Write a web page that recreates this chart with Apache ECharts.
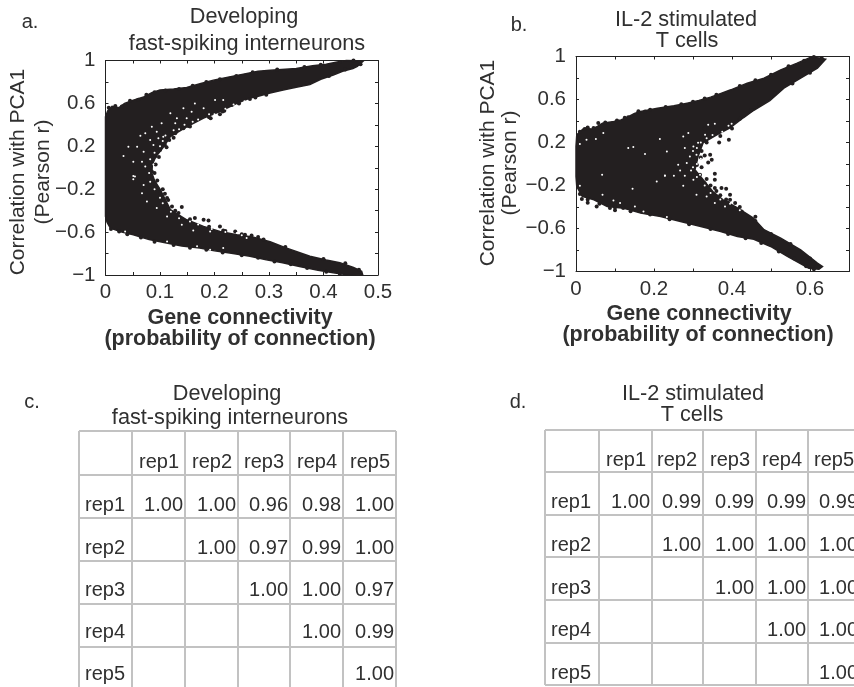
<!DOCTYPE html>
<html><head><meta charset="utf-8">
<style>html,body{margin:0;padding:0;background:#fff;overflow:hidden}#c{width:854px;height:687px}</style>
<script src="https://cdn.jsdelivr.net/npm/echarts@6/dist/echarts.min.js"></script></head>
<body><div id="c"></div>
<script>
// Envelope of the dense point cloud [connectivity, r]
const cloudA = [[0,.476],[.004,.53],[.012,.572],[.025,.56],[.035,.6],[.051,.63],[.07,.66],[.085,.7],[.1,.724],[.125,.735],[.149,.749],[.175,.785],[.198,.817],[.225,.845],[.253,.873],[.28,.9],[.302,.91],[.33,.918],[.35,.925],[.38,.95],[.405,.966],[.425,.985],[.442,1],[.46,.998],[.472,.99],
 [.462,.945],[.454,.926],[.435,.9],[.418,.864],[.395,.825],[.375,.775],[.35,.75],[.326,.724],[.3,.695],[.277,.662],[.265,.65],[.241,.6],[.21,.525],[.18,.463],[.149,.382],[.119,.29],[.106,.19],[.092,.1],[.086,.03],[.085,-.05],[.09,-.12],[.1,-.2],[.11,-.3],[.119,-.39],[.149,-.485],[.18,-.547],[.21,-.594],[.241,-.625],[.27,-.645],[.302,-.69],[.33,-.745],[.375,-.825],[.405,-.86],[.43,-.885],[.455,-.93],[.47,-.966],[.472,-1],
 [.44,-.995],[.418,-.98],[.39,-.955],[.356,-.92],[.325,-.885],[.295,-.857],[.265,-.825],[.234,-.8],[.2,-.775],[.173,-.749],[.14,-.73],[.112,-.702],[.08,-.67],[.051,-.625],[.03,-.6],[.009,-.563],[.003,-.51],[0,-.454]];
const edgeDotsA = [[.193,.461],[.21,.498],[.218,.531],[.232,.584],[.244,.606],[.152,.389],[.143,.368],[.128,.321],[.117,.259],[.109,.212],[.1,.166],[.091,.104],[.079,.011],[.085,-.036],[.079,-.088],[.091,-.16],[.091,-.15],[.1,-.231],[.109,-.243],[.113,-.283],[.122,-.361],[.14,-.367],[.134,-.423],[.164,-.469],[.18,-.485],[.189,-.492],[.21,-.547],[.216,-.585],[.238,-.594],[.256,-.625],[.268,-.631],[.29,-.67],[.33,-.74],[.4,-.85],[.44,-.89],[.465,-.95],[.468,.965],[.44,.915],[.41,.855],[.37,.79],[.295,.68],[.265,.64],
 [.006,.56],[.018,.575],[.03,.57],[.045,.625],[.06,.635],[.075,.68],[.09,.705],[.11,.72],[.135,.735],[.16,.765],[.185,.8],[.21,.825],[.24,.855],[.27,.89],[.315,.915],[.365,.94],[.395,.96],[.43,.985],[.455,1],
 [.01,-.57],[.025,-.595],[.04,-.62],[.065,-.65],[.09,-.69],[.125,-.72],[.155,-.745],[.185,-.765],[.215,-.79],[.25,-.815],[.28,-.84],[.31,-.875],[.34,-.9],[.37,-.935],[.405,-.97],[.43,-.99],
 [.155,.385],[.125,.28],[.112,.19],[.098,.1],[.092,.03],[.09,-.05],[.095,-.12],[.105,-.2],[.115,-.3],[.128,-.4],[.155,-.48],[.19,-.55],[.22,-.59],[.25,-.62],[.28,-.645],[.19,.47],[.215,.525],[.245,.6],[.275,.655]];
const gapDotsA = [[.033,.11],[.051,.057],[.042,.196],[.058,.196],[.073,.321],[.064,.299],[.085,.382],[.094,.336],[.103,.414],[.119,.507],[.143,.554],[.164,.6],[.158,.522],[.18,.554],[.201,.631],[.216,.631],[.07,.15],[.067,.057],[.073,.011],[.054,-.082],[.051,-.107],[.082,.259],[.088,.212],[.097,.275],[.106,.29],[.128,.414],[.131,.461],[.149,.461],[.051,-.076],[.07,-.16],[.067,-.237],[.076,-.315],[.094,-.376],[.113,-.455],[.14,-.532],[.161,-.585],[.192,-.594],[.216,-.749],[.241,-.609],[.259,-.655],[.168,-.733],[.113,-.687],[.036,-.594],[.192,-.764],
 [.088,.03],[.082,.08],[.09,.14],[.1,.2],[.105,.25],[.11,.3],[.125,.35],[.135,.36],[.145,.4],[.16,.43],[.17,.45],[.19,.5],[.2,.5],[.22,.55],[.235,.59],[.255,.62],[.08,-.05],[.082,-.13],[.09,-.2],[.1,-.28],[.105,-.33],[.12,-.41],[.135,-.47],[.155,-.5],[.17,-.53],[.195,-.57],[.22,-.6],[.25,-.63]];

const cloudB = [[0,.07],[0,.163],[.002,.271],[.02,.333],[.04,.325],[.055,.349],[.068,.38],[.097,.395],[.115,.41],[.132,.436],[.15,.47],[.166,.488],[.209,.519],[.251,.541],[.285,.566],[.315,.59],[.345,.622],[.37,.655],[.397,.69],[.439,.752],[.482,.798],[.525,.876],[.567,.938],[.602,.994],[.625,.985],[.64,.975],
 [.619,.891],[.576,.798],[.533,.705],[.497,.59],[.456,.5],[.429,.43],[.395,.337],[.361,.272],[.326,.197],[.313,.07],[.305,-.054],[.326,-.147],[.351,-.256],[.377,-.333],[.413,-.407],[.454,-.5],[.482,-.612],[.525,-.69],[.576,-.798],[.619,-.922],[.632,-.953],[.623,-.978],[.597,-.969],
 [.542,-.86],[.499,-.767],[.456,-.7],[.414,-.674],[.371,-.628],[.32,-.581],[.268,-.535],[.217,-.488],[.166,-.457],[.123,-.411],[.08,-.395],[.046,-.333],[.016,-.302],[.002,-.209],[0,-.116]];
const edgeDotsB = [[.392,.225],[.367,.2],[.344,.086],[.348,.039],[.339,.014],[.356,-.091],[.356,-.147],[.373,-.224],[.385,-.23],[.395,-.286],[.356,-.224],[.408,-.363],[.395,-.333],[.425,-.442],[.015,-.326],[.023,.325],[.057,.381],[.053,-.395],[.087,-.41],[.121,-.41],[.134,.436],[.177,.489],[.03,-.36],[.1,-.43],[.42,.42],[.45,.5],[.63,.985],[.33,.33],[.3,.2],[.322,-.03],[.33,-.18],[.322,.12],[.33,.08],[.318,-.1],[.345,-.2],[.37,-.29],[.39,-.36],
 [.01,.3],[.03,.34],[.045,.335],[.075,.385],[.105,.405],[.125,.43],[.16,.49],[.19,.505],[.23,.53],[.27,.555],[.3,.58],[.33,.61],[.36,.645],[.42,.725],[.46,.78],[.5,.83],[.545,.91],[.585,.96],[.61,.995],
 [.01,-.28],[.03,-.33],[.06,-.37],[.1,-.405],[.14,-.44],[.19,-.47],[.24,-.515],[.29,-.56],[.345,-.605],[.39,-.65],[.435,-.69],[.475,-.735],[.52,-.815],[.56,-.88],[.59,-.95],[.61,-.98],[.6,-.88],[.55,-.745],[.5,-.65],[.46,-.53],[.6,.85],[.555,.75],[.51,.655],[.47,.56],
 [.32,.06],[.335,.2],[.37,.26],[.4,.33],[.31,-.01],[.335,-.14],[.36,-.25],[.385,-.33],[.42,-.4],[.46,-.49]];
const gapDotsB = [[.215,.232],[.233,.117],[.275,.256],[.288,.288],[.339,.365],[.356,.374],[.391,.356],[.399,.374],[.331,.272],[.301,.163],[.279,.148],[.292,.07],[.262,-.007],[.284,.009],[.267,-.06],[.228,-.109],[.251,-.109],[.279,-.109],[.301,-.147],[.318,-.1],[.275,-.202],[.309,-.286],[.335,-.302],[.356,-.363],[.382,-.395],[.313,.197],[.233,-.494],[.309,.086],[.134,.148],[.147,.157],[.177,.092],[.067,-.1],[.145,-.23],[.207,-.162],[.228,-.107],[.027,.225],[.051,.232],[.01,.185],[.07,.288],[.068,-.286],[.01,-.202],[.096,-.339],[.113,-.363],[.151,-.395],[.173,-.442],
 [.3,.12],[.31,.15],[.32,.2],[.335,.24],[.35,.27],[.375,.3],[.3,-.03],[.295,-.06],[.31,-.12],[.33,-.2],[.345,-.27],[.37,-.33],[.395,-.37],[.42,-.43],[.32,.05],[.31,0]];

const xTicksA = {0:'0',1:'0.1',2:'0.2',3:'0.3',4:'0.4',5:'0.5'};
const xTicksB = {0:'0',2:'0.2',4:'0.4',6:'0.6'};
const yTicks = {'-10':'\u22121','-6':'\u22120.6','-2':'\u22120.2','2':'0.2','6':'0.6','10':'1'};

const reps = ['rep1','rep2','rep3','rep4','rep5'];
const tableC = [['1.00','1.00','0.96','0.98','1.00'],['','1.00','0.97','0.99','1.00'],['','','1.00','1.00','0.97'],['','','','1.00','0.99'],['','','','','1.00']];
const tableD = [['1.00','0.99','0.99','0.99','0.99'],['','1.00','1.00','1.00','1.00'],['','','1.00','1.00','1.00'],['','','','1.00','1.00'],['','','','','1.00']];

const FONT = '"Liberation Sans", Arial, sans-serif', INK = '#231f20', TXT = '#303030';
const chart = echarts.init(document.getElementById('c'), null, {renderer:'canvas'});

function cloudSeries(i, pts){
  return {type:'custom', xAxisIndex:i*2, yAxisIndex:i*2, data:pts, clip:false, silent:true, z:2,
    renderItem(p, api){
      if (p.dataIndex !== 0) return {type:'group', children:[]};
      return {type:'polygon', shape:{points:pts.map(q => api.coord(q))},
        style:{fill:INK, stroke:INK, lineWidth:1.5}};
    }};
}
function dots(i, pts, color, size, z){
  return {type:'scatter', xAxisIndex:i*2, yAxisIndex:i*2, data:pts, symbolSize:size, silent:true, z,
    itemStyle:{color, opacity:1}, large:false};
}
const tick = {show:true, inside:true, length:3, lineStyle:{color:'#222', width:1}};
const line = {show:true, onZero:false, lineStyle:{color:'#222', width:1}};
function axes(grid, xMax, xStep, xMap){
  const lab = {color:TXT, fontFamily:FONT, fontSize:20.5, hideOverlap:false, showMinLabel:true, showMaxLabel:true};
  const xs = [
    {type:'value', gridIndex:grid, min:0, max:xMax, interval:xStep, position:'bottom', axisLine:line, axisTick:tick, splitLine:{show:false},
     axisLabel:{...lab, margin:7, formatter:v => Math.abs(v/0.1-Math.round(v/0.1))<1e-6 && xMap[Math.round(v/0.1)] !== undefined ? xMap[Math.round(v/0.1)] : ''}},
    {type:'value', gridIndex:grid, min:0, max:xMax, interval:xStep, position:'top', axisLine:line, axisTick:tick, axisLabel:{show:false}, splitLine:{show:false}}];
  const ys = [
    {type:'value', gridIndex:grid, min:-1, max:1, interval:0.2, position:'left', axisLine:line, axisTick:tick, splitLine:{show:false},
     axisLabel:{...lab, margin:10, formatter:v => yTicks[Math.round(v*10)] || ''}},
    {type:'value', gridIndex:grid, min:-1, max:1, interval:0.2, position:'right', axisLine:line, axisTick:tick, axisLabel:{show:false}, splitLine:{show:false}}];
  return {xs, ys};
}
const A = axes(0, 0.5, 0.05, xTicksA), B = axes(1, 0.7, 0.1, xTicksB);

function txt(text, x, base, o={}){
  const size = o.size || 21.7;
  return {type:'text', x, y:o.rot ? base : base - size*0.36, rotation:o.rot||0, z:20, silent:true,
    style:{text, fill:o.fill||TXT, font:`${o.weight||'normal'} ${size}px ${FONT}`, align:o.align||'center', verticalAlign:'middle'}};
}
function table(vs, hs, hdrBase, rowBase, rows, leftX){
  const out = [];
  const top = hs[0], bot = hs[hs.length-1], l = vs[0], r = vs[vs.length-1];
  vs.forEach(x => out.push({type:'line', z:5, silent:true, shape:{x1:x,y1:top,x2:x,y2:bot}, style:{stroke:'#c2c2c2', lineWidth:2}}));
  hs.forEach(y => out.push({type:'line', z:5, silent:true, shape:{x1:l,y1:y,x2:r,y2:y}, style:{stroke:'#c2c2c2', lineWidth:2}}));
  reps.forEach((name,i) => {
    out.push(txt(name, vs[i+2]-6, hdrBase, {align:'right', size:20}));
    out.push(txt(name, leftX, rowBase[i], {align:'left', size:20}));
    rows[i].forEach((val,j) => { if (val) out.push(txt(val, vs[j+2]-2, rowBase[i], {align:'right', size:20})); });
  });
  return out;
}
const BL = {weight:'bold', size:21.5};
const graphics = [
  txt('a.',30,30,{size:20}), txt('Developing',244,25), txt('fast-spiking interneurons',247,52),
  txt('b.',519,33,{size:20}), txt('IL-2 stimulated',686,28), txt('T cells',687,49),
  txt('Gene connectivity',240,326,BL), txt('(probability of connection)',240,347,BL),
  txt('Gene connectivity',699,322,BL), txt('(probability of connection)',698,343,BL),
  txt('Correlation with PCA1',18,172,{rot:Math.PI/2,size:21}), txt('(Pearson r)',43,172,{rot:Math.PI/2,size:21}),
  txt('Correlation with PCA1',488,163,{rot:Math.PI/2,size:21}), txt('(Pearson r)',510,163,{rot:Math.PI/2,size:21}),
  txt('c.',32,410,{size:20}), txt('Developing',227,402), txt('fast-spiking interneurons',230,426),
  txt('d.',518,410,{size:20}), txt('IL-2 stimulated',693,402), txt('T cells',692,423),
  ...table([79,132,185,238,290,343,396],[431,475,518,561,604,647,690],470,[513,556,598,640,682],tableC,85),
  ...table([545,599,652,703,756,808,860],[430,472,515,557,600,643,685],468,[510,553,596,638,681],tableD,551)
];
chart.setOption({
  animation:false, backgroundColor:'#fff',
  grid:[{left:105.5,top:60.5,width:272.5,height:214.5,show:false},{left:576,top:56.5,width:273,height:215,show:false}],
  xAxis:[...A.xs,...B.xs], yAxis:[...A.ys,...B.ys],
  series:[cloudSeries(0,cloudA),dots(0,edgeDotsA,INK,4,3),dots(0,gapDotsA,'#fff',2,4),
          cloudSeries(1,cloudB),dots(1,edgeDotsB,INK,4,3),dots(1,gapDotsB,'#fff',2,4)],
  graphic:graphics
});
</script></body></html>
